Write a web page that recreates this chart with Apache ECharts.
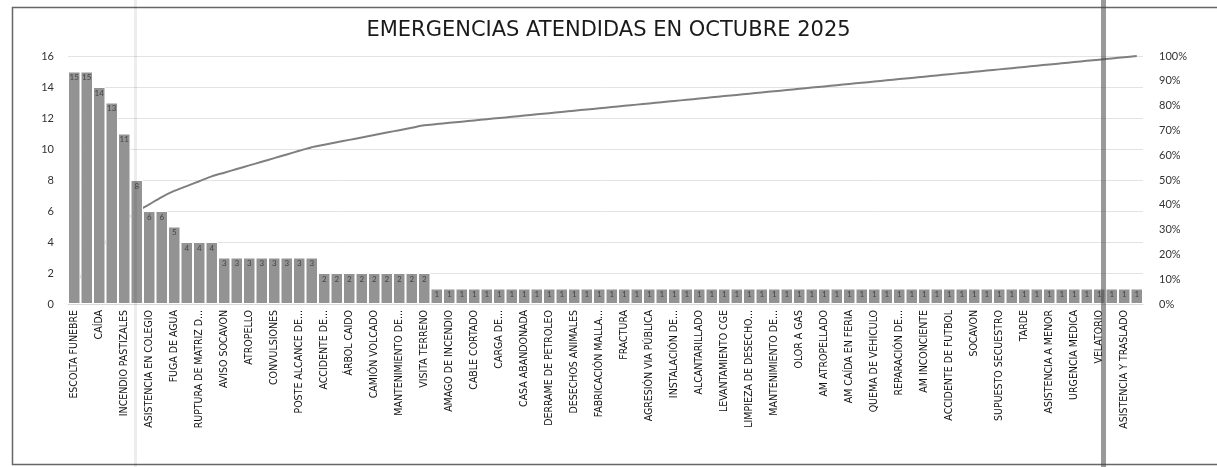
<!DOCTYPE html>
<html>
<head>
<meta charset="utf-8">
<script src="https://cdn.jsdelivr.net/npm/echarts@6/dist/echarts.min.js"></script>
<style>
html,body{margin:0;padding:0;background:#fff;}
#chart{width:1217px;height:467px;}
</style>
</head>
<body>
<div id="chart"></div>
<script>
// Category names (every second label is hidden in the original chart and cannot be read)
const categories = [
  'ESCOLTA FUNEBRE','', 'CAÍDA','', 'INCENDIO PASTIZALES','', 'ASISTENCIA EN COLEGIO','',
  'FUGA DE AGUA','', 'RUPTURA DE MATRIZ D...','', 'AVISO SOCAVON','', 'ATROPELLO','',
  'CONVULSIONES','', 'POSTE ALCANCE DE...','', 'ACCIDENTE DE...','', 'ÁRBOL CAIDO','',
  'CAMIÓN VOLCADO','', 'MANTENIMIENTO DE...','', 'VISITA TERRENO','', 'AMAGO DE INCENDIO','',
  'CABLE CORTADO','', 'CARGA DE...','', 'CASA ABANDONADA','', 'DERRAME DE PETROLEO','',
  'DESECHOS ANIMALES','', 'FABRICACIÓN MALLA...','', 'FRACTURA','', 'AGRESIÓN VIA PÚBLICA','',
  'INSTALACIÓN DE...','', 'ALCANTARILLADO','', 'LEVANTAMIENTO CGE','', 'LIMPIEZA DE DESECHO...','',
  'MANTENIMIENTO DE...','', 'OLOR A GAS','', 'AM ATROPELLADO','', 'AM CAÍDA EN FERIA','',
  'QUEMA DE VEHICULO','', 'REPARACIÓN DE...','', 'AM INCONCIENTE','', 'ACCIDENTE DE FUTBOL','',
  'SOCAVON','', 'SUPUESTO SECUESTRO','', 'TARDE','', 'ASISTENCIA A MENOR','',
  'URGENCIA MEDICA','', 'VELATORIO','', 'ASISTENCIA Y TRASLADO',''
];
const counts = [
  15,15,14,13,11,8,6,6,5,4,4,4,
  3,3,3,3,3,3,3,3,
  2,2,2,2,2,2,2,2,2,
  1,1,1,1,1,1,1,1,1,1,1,1,1,1,1,1,1,1,1,1,
  1,1,1,1,1,1,1,1,1,1,1,1,1,1,1,1,1,1,1,1,
  1,1,1,1,1,1,1,1,1,1,1,1,1,1,1,1,1
];
const leftTicks = {min: 0, max: 16, interval: 2};
const rightTicks = {min: 0, max: 1, interval: 0.1};
const titleText = 'EMERGENCIAS ATENDIDAS EN OCTUBRE 2025';

const total = counts.reduce((a, b) => a + b, 0);
let run = 0;
const cumulative = counts.map(v => { run += v; return run / total; });

const chart = echarts.init(document.getElementById('chart'), null, {renderer: 'canvas'});
chart.setOption({
  backgroundColor: '#ffffff',
  animation: false,
  title: {
    text: titleText,
    left: 'center',
    top: 15,
    textStyle: {fontFamily: 'DejaVu Sans', fontSize: 21, fontWeight: 'normal', color: '#1a1a1a'}
  },
  graphic: [
    {type: 'rect', left: 10, top: 5, shape: {width: 1215, height: 457},
     style: {fill: 'none', stroke: '#666', lineWidth: 1.5}, z: 100, silent: true},
    {type: 'rect', left: 134, top: 0, shape: {width: 3, height: 467},
     style: {fill: 'rgba(0,0,0,0.07)'}, z: 100, silent: true},
    {type: 'rect', left: 1101, top: 0, shape: {width: 5, height: 467},
     style: {fill: 'rgba(70,70,70,0.55)'}, z: 100, silent: true}
  ],
  grid: {left: 68, right: 74, top: 56, bottom: 163, containLabel: false},
  xAxis: {
    type: 'category',
    data: categories,
    axisTick: {show: false},
    axisLine: {show: true, lineStyle: {color: '#d9d9d9'}},
    axisLabel: {
      interval: 0, rotate: 90, margin: 6,
      fontFamily: 'Liberation Sans Narrow, DejaVu Sans Condensed, sans-serif',
      fontSize: 10.5, color: '#111'
    }
  },
  yAxis: [
    {
      type: 'value', min: leftTicks.min, max: leftTicks.max, interval: leftTicks.interval,
      axisLine: {show: false}, axisTick: {show: false},
      splitLine: {lineStyle: {color: '#e3e3e3', width: 1}},
      axisLabel: {fontFamily: 'Lato', fontSize: 11, color: '#333', margin: 14}
    },
    {
      type: 'value', min: rightTicks.min, max: rightTicks.max, interval: rightTicks.interval,
      position: 'right',
      axisLine: {show: false}, axisTick: {show: false}, splitLine: {show: false},
      axisLabel: {fontFamily: 'Lato', fontSize: 11, color: '#333', margin: 16,
        formatter: v => Math.round(v * 100) + '%'}
    }
  ],
  series: [
    {
      type: 'line', yAxisIndex: 1, data: cumulative, showSymbol: false, smooth: 0.3,
      lineStyle: {color: '#7f7f7f', width: 2}, z: 1
    },
    {
      type: 'bar', yAxisIndex: 0, data: counts, barCategoryGap: '0%', z: 2,
      itemStyle: {color: '#939393', borderColor: '#ffffff', borderWidth: 1},
      label: {show: true, position: 'insideTop', distance: 2, fontSize: 8,
        fontFamily: 'Lato', color: '#444'}
    }
  ]
});
</script>
</body>
</html>
